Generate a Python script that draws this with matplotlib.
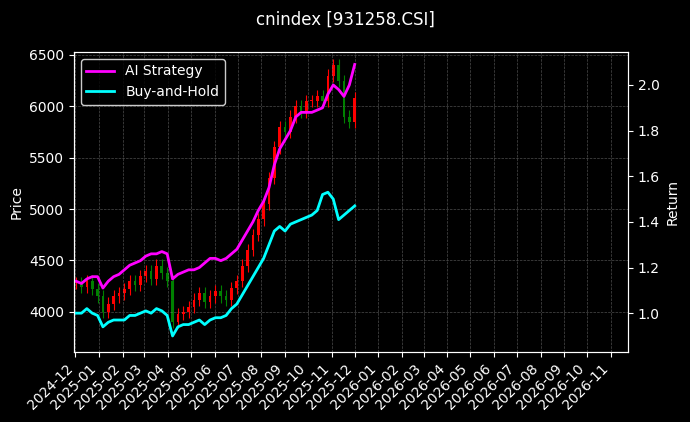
import datetime
import numpy as np
import matplotlib
matplotlib.use("Agg")
import matplotlib.pyplot as plt
import matplotlib.dates as mdates

start = datetime.date(2024, 12, 2)
dates = [start + datetime.timedelta(days=7 * i) for i in range(53)]

closes = [4280, 4240, 4300, 4220, 4150,
          4000, 4080, 4150, 4180,
          4220, 4300, 4260, 4350,
          4400, 4320, 4450, 4380, 4300,
          3900, 3980, 4000, 4050,
          4120, 4180, 4100, 4150,
          4200, 4150, 4120, 4230, 4300,
          4450, 4600, 4750, 4900,
          5050, 5300, 5600, 5800,
          5750, 5900, 6000, 5950, 6050,
          6050, 6100, 6050, 6300,
          6400, 6250, 5900, 5850,
          6080]

ai_ret = [1.14, 1.13, 1.15, 1.16, 1.16,
          1.11, 1.14, 1.16, 1.17,
          1.19, 1.21, 1.22, 1.23,
          1.25, 1.26, 1.26, 1.27, 1.26,
          1.15, 1.17, 1.18, 1.19,
          1.19, 1.20, 1.22, 1.24,
          1.24, 1.23, 1.24, 1.26, 1.28,
          1.32, 1.36, 1.40, 1.45,
          1.49, 1.55, 1.65, 1.72,
          1.76, 1.80, 1.86, 1.88, 1.88,
          1.88, 1.89, 1.90, 1.96,
          2.00, 1.98, 1.95, 2.00,
          2.09]

bh_ret = [1.00, 1.00, 1.02, 1.00, 0.99,
          0.94, 0.96, 0.97, 0.97,
          0.97, 0.99, 0.99, 1.00,
          1.01, 1.00, 1.02, 1.01, 0.99,
          0.90, 0.94, 0.95, 0.95,
          0.96, 0.97, 0.95, 0.97,
          0.98, 0.98, 0.99, 1.02, 1.04,
          1.08, 1.12, 1.16, 1.20,
          1.24, 1.30, 1.36, 1.38,
          1.36, 1.39, 1.40, 1.41, 1.42,
          1.43, 1.45, 1.52, 1.53,
          1.50, 1.41, 1.43, 1.45,
          1.47]

opens = [closes[0]] + closes[:-1]

fig = plt.figure(figsize=(6.9, 4.22), dpi=100, facecolor="black")
ax = fig.add_axes([0.107, 0.166, 0.803, 0.711], facecolor="black")
ax2 = ax.twinx()

x = mdates.date2num(dates)
for xi, o, c in zip(x, opens, closes):
    color = "red" if c >= o else "green"
    hi = max(o, c) + 60
    lo = min(o, c) - 60
    ax.vlines(xi, lo, hi, color=color, linewidth=0.8)
    ax.bar(xi, max(abs(c - o), 8), bottom=min(o, c), width=3.5, color=color, linewidth=0)

ax2.plot(dates, ai_ret, color="magenta", linewidth=2, label="AI Strategy")
ax2.plot(dates, bh_ret, color="cyan", linewidth=2, label="Buy-and-Hold")

ax.set_ylim(3610, 6530)
ax2.set_ylim(0.83, 2.145)
ax.set_xlim(datetime.date(2024, 11, 29), datetime.date(2026, 11, 23))
ax.xaxis.set_major_locator(mdates.MonthLocator())
ax.xaxis.set_major_formatter(mdates.DateFormatter("%Y-%m"))
plt.setp(ax.get_xticklabels(), rotation=45, ha="right")

ax.grid(True, color="gray", linestyle="--", linewidth=0.5, alpha=0.6)
for a in (ax, ax2):
    a.tick_params(colors="white")
    for s in a.spines.values():
        s.set_color("white")
ax.set_ylabel("Price", color="white")
ax2.set_ylabel("Return", color="white")
fig.suptitle("cnindex [931258.CSI]", color="white", y=0.975)

leg = ax2.legend(loc="upper left", facecolor="black", edgecolor="white")
for t in leg.get_texts():
    t.set_color("white")

fig.savefig("out.png", facecolor="black")
